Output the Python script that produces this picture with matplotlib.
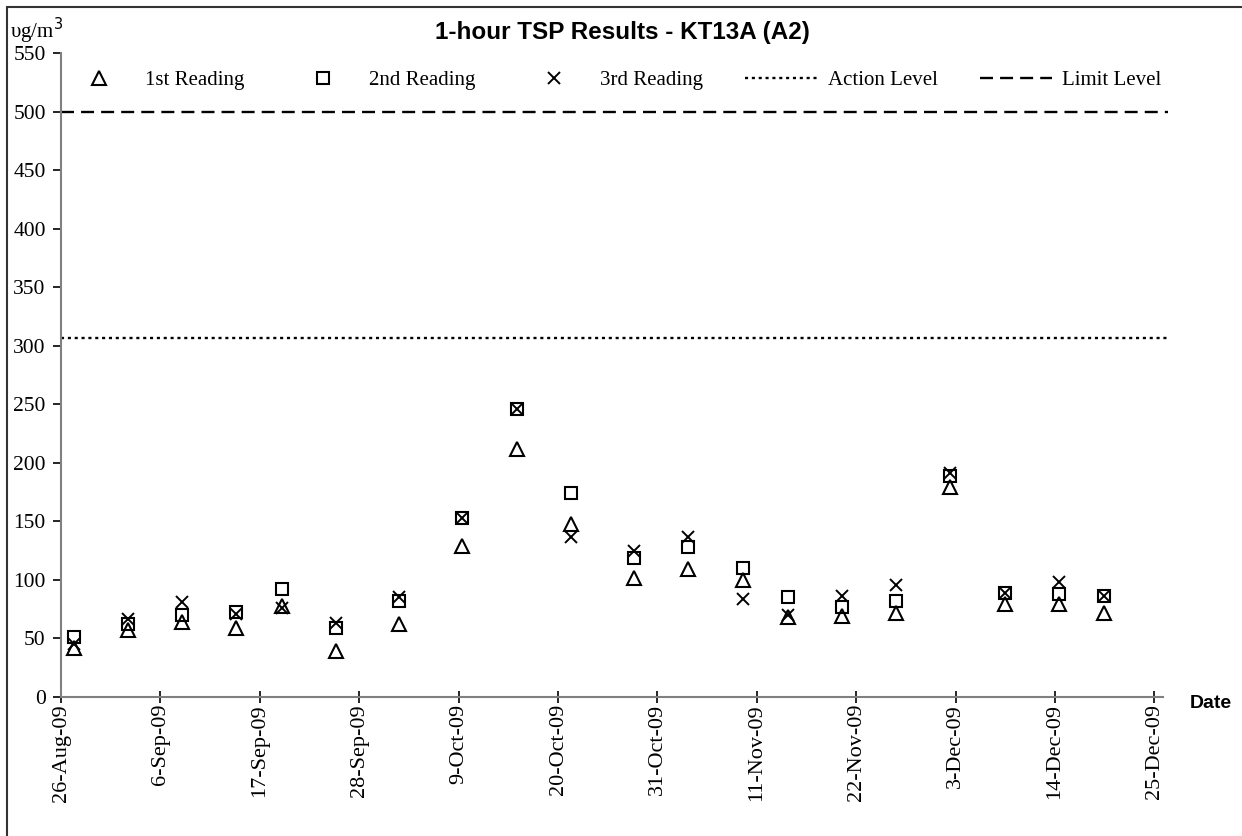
import matplotlib
matplotlib.use("Agg")
import matplotlib.pyplot as plt
import matplotlib.dates as mdates
from matplotlib.patches import Rectangle
from matplotlib.ticker import FuncFormatter
import pandas as pd

# sampling dates (readings taken mid-morning)
dates = ["2009-08-27 10:00", "2009-09-02 10:00", "2009-09-08 10:00", "2009-09-14 10:00",
         "2009-09-19 10:00", "2009-09-25 10:00", "2009-10-02 10:00", "2009-10-09 10:00",
         "2009-10-15 10:00", "2009-10-21 10:00", "2009-10-28 10:00", "2009-11-03 10:00",
         "2009-11-09 10:00", "2009-11-14 10:00", "2009-11-20 10:00", "2009-11-26 10:00",
         "2009-12-02 10:00", "2009-12-08 10:00", "2009-12-14 10:00", "2009-12-19 10:00"]
reading1 = [42, 57, 64, 59, 78, 39, 62, 129, 212, 148, 102, 109, 100, 68, 69, 72, 179, 79, 79, 72]
reading2 = [51, 62, 70, 73, 92, 59, 82, 153, 246, 174, 119, 128, 110, 85, 77, 82, 189, 89, 88, 86]
reading3 = [45, 67, 81, 71, 76, 63, 85, 153, 246, 137, 125, 137, 84, 70, 86, 96, 191, 89, 98, 86]
action_level = 307
limit_level = 500
axis_start = "2009-08-26"
axis_end = "2009-12-25"
y_ticks = [0, 50, 100, 150, 200, 250, 300, 350, 400, 450, 500, 550]

serif = ["Liberation Serif", "DejaVu Serif"]
narrow = ["Liberation Sans Narrow", "Liberation Sans", "DejaVu Sans"]

W, H = 1242, 836
fig = plt.figure(figsize=(W / 100, H / 100), dpi=100)
ax = fig.add_axes([61 / W, 1 - 697 / H, (1168 - 61) / W, (697 - 53) / H])

x = mdates.date2num(pd.to_datetime(dates))
start = mdates.date2num(pd.Timestamp(axis_start))
ticks = mdates.date2num(pd.date_range(axis_start, axis_end, freq="11D"))

h1, = ax.plot(x, reading1, ls="none", marker="^", ms=9.5, mfc="none", mec="black", mew=1.5, label="1st Reading")
h2, = ax.plot(x, reading2, ls="none", marker="s", ms=8, mfc="none", mec="black", mew=1.5, label="2nd Reading")
h3, = ax.plot(x, reading3, ls="none", marker="x", ms=9, mec="black", mew=1.4, label="3rd Reading")
h4 = ax.axhline(action_level, color="black", lw=1.7, ls=(0, (1.3, 1.6)), label="Action Level", clip_on=False)
h5 = ax.axhline(limit_level, color="black", lw=1.7, ls=(0, (5.5, 3)), label="Limit Level", clip_on=False)

ax.set_xlim(start, start + 122.5)
ax.set_ylim(0, 550)
ax.set_xticks(ticks)
ax.xaxis.set_major_formatter(FuncFormatter(lambda v, p: "{}-{}".format(mdates.num2date(v).day, mdates.num2date(v).strftime("%b-%y"))))
ax.set_yticks(y_ticks)

for s in ["top", "right"]:
    ax.spines[s].set_visible(False)
for s in ["left", "bottom"]:
    ax.spines[s].set_color("#808080")
    ax.spines[s].set_linewidth(1.5)
ax.spines["bottom"].set_bounds(start, start + 122)

ax.tick_params(axis="y", direction="out", length=6, width=1.2, color="black", pad=5)
ax.tick_params(axis="x", direction="inout", length=8, width=1.2, color="black", pad=1)
for lab in ax.get_yticklabels():
    lab.set_fontfamily(serif)
    lab.set_fontsize(15.5)
for lab in ax.get_xticklabels():
    lab.set_fontfamily(serif)
    lab.set_fontsize(16)
    lab.set_rotation(90)

ax.legend(handles=[h1, h2, h3, h4, h5], loc="center left", bbox_to_anchor=(0.0014, 0.958), ncol=5,
          frameon=False, prop={"family": serif, "size": 15}, handlelength=3.5, handletextpad=0.48,
          columnspacing=2.0, borderpad=0, borderaxespad=0, numpoints=1)

fig.text(622 / W, 1 - 32 / H, "1-hour TSP Results - KT13A (A2)", ha="center", va="center",
         fontsize=17.5, fontweight="bold", family=narrow)
fig.text(10 / W, 1 - 31 / H, "υg/m$^3$", ha="left", va="center", fontsize=15, family=serif)
fig.text(1211 / W, 1 - 703 / H, "Date", ha="center", va="center", fontsize=14, fontweight="bold", family=narrow)

# chart area border (cropped on the right and bottom)
fig.patches.append(Rectangle((7 / W, -0.1), 1.2, 1 - 7 / H + 0.1, transform=fig.transFigure,
                             fill=False, edgecolor="#333333", lw=1.5))

fig.savefig("out.png", dpi=100)
